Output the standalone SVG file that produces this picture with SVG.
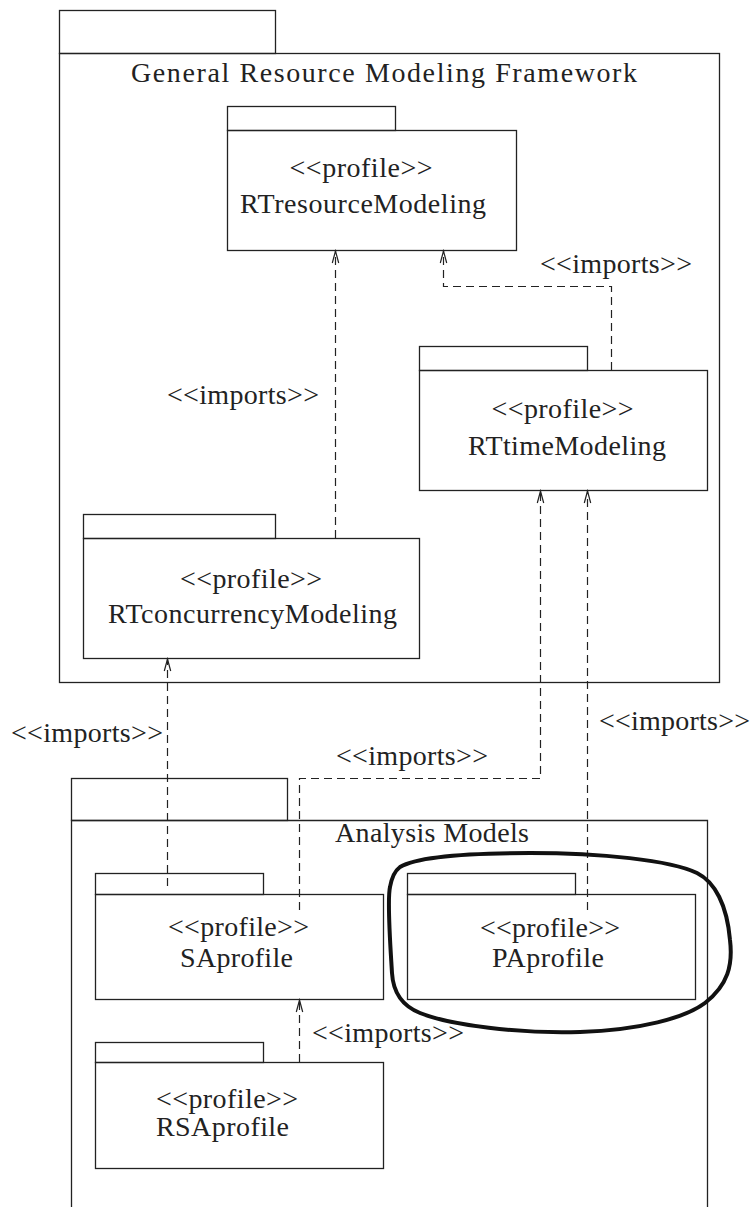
<svg xmlns="http://www.w3.org/2000/svg" width="753" height="1207" viewBox="0 0 753 1207">
<style>
.box{fill:none;stroke:#222;stroke-width:1.3}
.t{font-family:'Liberation Serif','Times New Roman',serif;font-size:28px;fill:#222}
.m{text-anchor:middle}
.c{fill:none;stroke:#222;stroke-width:1.2;stroke-dasharray:8 5}
</style>
<defs>
<marker id="arr" markerUnits="userSpaceOnUse" markerWidth="16" markerHeight="10" refX="0" refY="0" viewBox="-14 -5 16 10" orient="auto">
<path d="M-12,-3.2 L0,0 L-12,3.2" fill="none" stroke="#222" stroke-width="1.2" stroke-dasharray="none"/>
</marker>
</defs>
<rect width="753" height="1207" fill="#fff"/>
<g id="grmf">
<rect class="box" x="59.5" y="10.5" width="216" height="43"/>
<rect class="box" x="59.5" y="53.5" width="660" height="629"/>
<text class="t m" x="384" y="82" textLength="506" lengthAdjust="spacing">General Resource Modeling Framework</text>
</g>
<g id="analysis">
<rect class="box" x="71.5" y="778.5" width="216" height="42"/>
<path class="box" d="M71.5 1210 V820.5 H707.5 V1210"/>
<text class="t m" x="432" y="842" textLength="194" lengthAdjust="spacing">Analysis Models</text>
</g>
<g id="rtresource">
<rect class="box" x="227.5" y="106.5" width="168" height="24"/>
<rect class="box" x="227.5" y="130.5" width="289" height="120"/>
<text class="t m" x="361" y="177" textLength="143" lengthAdjust="spacing">&lt;&lt;profile&gt;&gt;</text>
<text class="t m" x="363" y="213" textLength="246" lengthAdjust="spacing">RTresourceModeling</text>
</g>
<g id="rttime">
<rect class="box" x="419.5" y="346.5" width="168" height="24"/>
<rect class="box" x="419.5" y="370.5" width="288" height="120"/>
<text class="t m" x="562.5" y="418" textLength="142" lengthAdjust="spacing">&lt;&lt;profile&gt;&gt;</text>
<text class="t m" x="567" y="455" textLength="198" lengthAdjust="spacing">RTtimeModeling</text>
</g>
<g id="rtconcurrency">
<rect class="box" x="83.5" y="514.5" width="192" height="24"/>
<rect class="box" x="83.5" y="538.5" width="336" height="120"/>
<text class="t m" x="251" y="588" textLength="142" lengthAdjust="spacing">&lt;&lt;profile&gt;&gt;</text>
<text class="t m" x="252.5" y="623" textLength="289" lengthAdjust="spacing">RTconcurrencyModeling</text>
</g>
<g id="saprofile">
<rect class="box" x="95.5" y="873.5" width="168" height="21"/>
<rect class="box" x="95.5" y="894.5" width="288" height="105"/>
<text class="t m" x="238.5" y="936" textLength="141" lengthAdjust="spacing">&lt;&lt;profile&gt;&gt;</text>
<text class="t m" x="236.5" y="967" textLength="113" lengthAdjust="spacing">SAprofile</text>
</g>
<g id="paprofile">
<rect class="box" x="407.5" y="873.5" width="168" height="21"/>
<rect class="box" x="407.5" y="894.5" width="288" height="105"/>
<text class="t m" x="550" y="937" textLength="140" lengthAdjust="spacing">&lt;&lt;profile&gt;&gt;</text>
<text class="t m" x="548" y="967" textLength="112" lengthAdjust="spacing">PAprofile</text>
</g>
<g id="rsaprofile">
<rect class="box" x="95.5" y="1042.5" width="168" height="20"/>
<rect class="box" x="95.5" y="1062.5" width="288" height="106"/>
<text class="t" x="156" y="1108" textLength="142" lengthAdjust="spacing">&lt;&lt;profile&gt;&gt;</text>
<text class="t" x="156" y="1136" textLength="133" lengthAdjust="spacing">RSAprofile</text>
</g>
<g id="connectors">
<path class="c" d="M335.5 538 V251" marker-end="url(#arr)"/>
<path class="c" d="M611.5 370 V286.5 H443.5 V251" marker-end="url(#arr)"/>
<path class="c" d="M167.5 886 V659" marker-end="url(#arr)"/>
<path class="c" d="M299.5 910 V778.5 H540.5 V491" marker-end="url(#arr)"/>
<path class="c" d="M587.5 910 V491" marker-end="url(#arr)"/>
<path class="c" d="M299.5 1062 V1000" marker-end="url(#arr)"/>
<text class="t" x="540" y="273" textLength="152" lengthAdjust="spacing">&lt;&lt;imports&gt;&gt;</text>
<text class="t" x="167" y="404" textLength="152" lengthAdjust="spacing">&lt;&lt;imports&gt;&gt;</text>
<text class="t" x="11" y="742" textLength="152" lengthAdjust="spacing">&lt;&lt;imports&gt;&gt;</text>
<text class="t" x="336" y="765" textLength="152" lengthAdjust="spacing">&lt;&lt;imports&gt;&gt;</text>
<text class="t" x="599" y="730" textLength="151" lengthAdjust="spacing">&lt;&lt;imports&gt;&gt;</text>
<text class="t" x="312" y="1042" textLength="152" lengthAdjust="spacing">&lt;&lt;imports&gt;&gt;</text>
</g>
<g id="highlight">
<path d="M400 867 C418 856,470 853,530 853 C600 853,670 860,697 873 C715 882,727 905,730 940 C733 965,728 985,705 1003 C685 1018,640 1030,580 1032 C520 1034,450 1025,420 1013 C400 1005,393 990,392 973 C390 940,387 900,390 887 C392 876,396 870,400 867 Z" fill="none" stroke="#111" stroke-width="4"/>
</g>
</svg>
